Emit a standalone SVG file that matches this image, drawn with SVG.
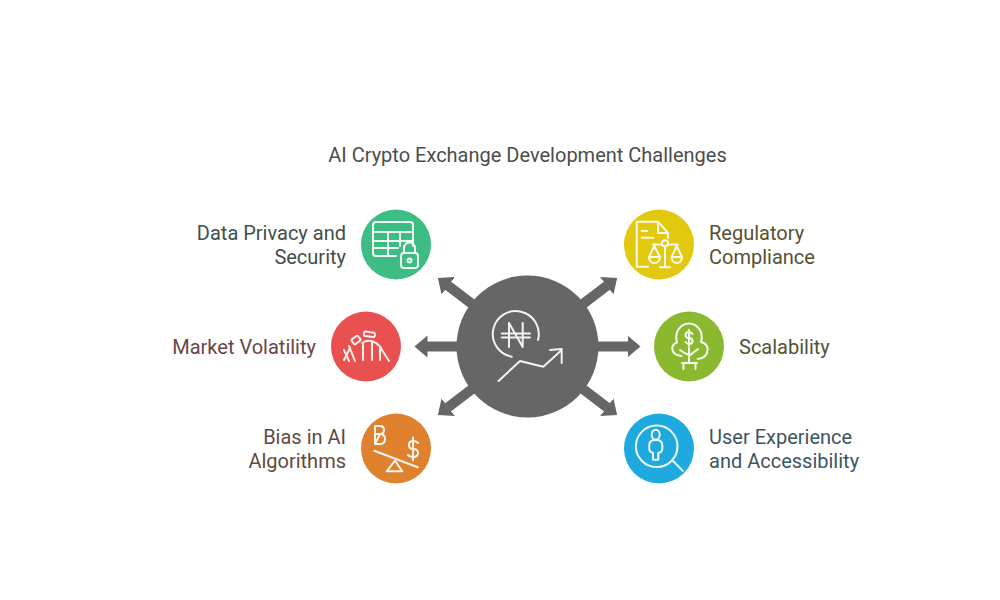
<svg xmlns="http://www.w3.org/2000/svg" width="1000" height="600" viewBox="0 0 1000 600">
<style>
text{font-family:Roboto,"Liberation Sans",sans-serif;font-size:20px}
.t{fill:#4c4c4c;text-anchor:middle}
.e{text-anchor:end}
.i{fill:none;stroke:#fff;stroke-width:2;stroke-linecap:round;stroke-linejoin:round;opacity:.92}
.c{stroke:#666;stroke-width:10;fill:none}
</style>
<defs>
<marker id="head" markerUnits="userSpaceOnUse" markerWidth="14" markerHeight="22" refX="0.5" refY="11" orient="auto"><path d="M0 0L13 11L0 22Z" fill="#666"/></marker>
</defs>
<rect width="1000" height="600" fill="#fff"/>
<text class="t" x="527.5" y="162">AI Crypto Exchange Development Challenges</text>
<g id="connectors">
<line class="c" x1="480" y1="310" x2="447.8" y2="285.5" marker-end="url(#head)"/>
<line class="c" x1="470" y1="346.5" x2="427" y2="346.5" marker-end="url(#head)"/>
<line class="c" x1="480" y1="383" x2="447.8" y2="407.5" marker-end="url(#head)"/>
<line class="c" x1="575" y1="310" x2="607.2" y2="285.5" marker-end="url(#head)"/>
<line class="c" x1="585" y1="346.5" x2="628" y2="346.5" marker-end="url(#head)"/>
<line class="c" x1="575" y1="383" x2="607.2" y2="407.5" marker-end="url(#head)"/>
</g>
<g id="center">
<circle cx="527.5" cy="346.5" r="71" fill="#666"/>
<g class="i">
<path d="M511.7 356.7A23 23 0 1 1 538 340"/>
<path d="M509 323V347M522.7 323V347M509 323L522.7 347M501.7 333.500H530M501.7 337.500H530"/>
<path d="M498.500 381L520 361L543.300 366.700L561.700 350M550 350L561.700 349V363"/>
</g>
</g>
<g id="data-privacy">
<circle cx="396" cy="244.500" r="35" fill="#3dbd83"/>
<g class="i">
<path d="M396 256H376Q373 256 373 253V225Q373 222 376 222H410Q413 222 413 225V246"/>
<path d="M373 232H413M373 241H413M373 248H398M388 232V256M400 232V246"/>
<rect x="401" y="253" width="17" height="15" rx="3"/>
<path d="M404 253V248A5.500 5.500 0 0 1 415 248V253"/>
<circle cx="409.500" cy="260.500" r="2"/>
</g>
<text class="e" fill="#3f4f4a" x="346" y="240">Data Privacy and</text>
<text class="e" fill="#3f4f4a" x="346" y="264">Security</text>
</g>
<g id="market-volatility">
<circle cx="366" cy="346.500" r="35" fill="#e8514f"/>
<g class="i">
<path d="M344 360L350 348M362 343Q368 339 374 342Q379 344 382 350L389 361"/>
<path d="M344 350L349 361M349 346L355 361M363 343V360M372 342V360M380 347V360"/>
<rect x="352" y="337" width="8" height="6" rx="1.500" transform="rotate(-35 356 340)"/>
<rect x="364" y="332" width="11" height="4.500" rx="1.500" transform="rotate(8 369 334)"/>
</g>
<text class="e" fill="#6a4545" x="316" y="354">Market Volatility</text>
</g>
<g id="bias">
<circle cx="396" cy="448.500" r="35" fill="#e0812e"/>
<g class="i">
<path d="M375 426H380Q384 426 384 430Q384 434 380 434H375M380 434Q385 434 385 439Q385 444 380 444H375ZM375 426V444"/>
<path d="M418 443Q416 441 413 441Q409 441 409 445Q409 449 413 449Q418 449 418 453Q418 457 413 457Q410 457 408 455M413 437.500V460.500"/>
<path d="M374.300 450.700L417.700 467.300"/>
<path d="M395 460.700L386.700 471.300H402.300Z"/>
</g>
<text class="e" fill="#5f4a3f" x="346" y="444">Bias in AI</text>
<text class="e" fill="#5f4a3f" x="346" y="468">Algorithms</text>
</g>
<g id="regulatory">
<circle cx="659" cy="244.500" r="35" fill="#e2c90f"/>
<g class="i">
<path d="M648 266.700H636.700V221.700H658L668 233V238M658 221.700V233H668"/>
<path d="M641.700 231H647.300M641.700 237.700H653.300"/>
<circle cx="665" cy="243.300" r="3"/>
<path d="M665 246.500V267.300M660 267.300H670M662 244.500H653M668 244.500H678"/>
<path d="M654.300 246L649 257H660ZM649 257Q649.500 263 654.300 263Q659.500 263 660 257"/>
<path d="M676.700 246L671.500 257H682ZM671.500 257Q672 263 676.700 263Q681.500 263 682 257"/>
</g>
<text fill="#55512f" x="709" y="240">Regulatory</text>
<text fill="#55512f" x="709" y="264">Compliance</text>
</g>
<g id="scalability">
<circle cx="689" cy="346.500" r="35" fill="#8ab82f"/>
<g class="i">
<path d="M681.700 356Q672 355 672.300 348Q672.500 344 677 342.500Q675 335 678 330Q682 323.500 689 323.500Q696 323.500 700 330Q703 336 701 342Q707.500 344 707.700 349Q707.500 358 697.700 359"/>
<path d="M689 348V362M680 350Q684 353 689 355M698 349Q694 352 689 356"/>
<path d="M682 363H697M683.500 363V369M695.500 363V369"/>
<path d="M692.500 334Q691 332 689 332Q685.500 332 685.500 335Q685.500 338 689 338Q692.500 338 692.500 341Q692.500 344 689 344Q687 344 685.500 342M689 330V346"/>
</g>
<text fill="#4b5535" x="739" y="354">Scalability</text>
</g>
<g id="user-experience">
<circle cx="659" cy="448.500" r="35" fill="#1faadf"/>
<g class="i">
<circle cx="656.700" cy="446.300" r="20.800"/>
<path d="M673.300 461.300L682.700 470.700"/>
<ellipse cx="655.700" cy="434.700" rx="4" ry="5"/>
<path d="M653 459.700V453Q649.300 452 649.300 449V445Q649.300 440 655.700 439.700Q662.300 440 662.300 445V449Q662.300 452 658.300 453V459.700H653"/>
</g>
<text fill="#3d5560" x="709" y="444">User Experience</text>
<text fill="#3d5560" x="709" y="468">and Accessibility</text>
</g>
</svg>
